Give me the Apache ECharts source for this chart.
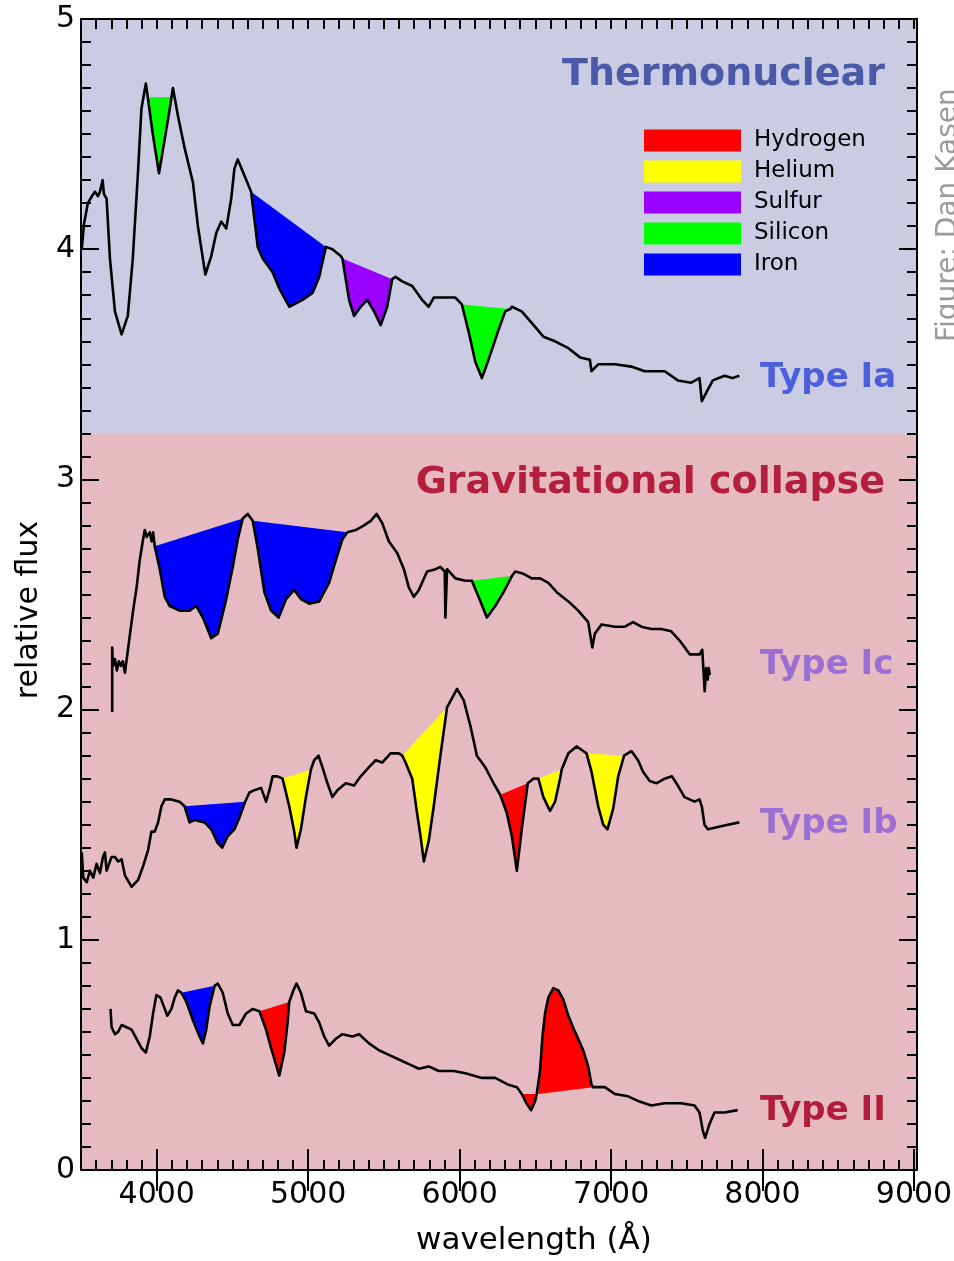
<!DOCTYPE html>
<html><head><meta charset="utf-8">
<script src="https://cdn.jsdelivr.net/npm/echarts@6/dist/echarts.min.js"></script>
<style>html,body{margin:0;padding:0;background:#fff}#c{width:954px;height:1261px}</style>
</head><body><div id="c"></div><script>
// ---------- data ----------
const ELEMENTS = ['Hydrogen', 'Helium', 'Sulfur', 'Silicon', 'Iron'];
const X_LABELS = [4000, 5000, 6000, 7000, 8000, 9000];
const Y_LABELS = [0, 1, 2, 3, 4, 5];
const BAND_SPLIT = 3.2;
const TYPE_NAMES = ['Type Ia', 'Type Ic', 'Type Ib', 'Type II'];

// [wavelength (Å), relative flux]
const typeIa = [[3505,4.00],[3520,4.11],[3545,4.20],[3572,4.23],[3592,4.25],[3612,4.23],[3625,4.25],[3643,4.30],[3651,4.24],[3669,4.22],[3691,3.96],[3724,3.73],[3768,3.63],[3809,3.71],[3842,3.96],[3875,4.32],[3899,4.61],[3928,4.72],[3941,4.66],[3974,4.50],[4015,4.33],[4053,4.48],[4086,4.61],[4107,4.70],[4140,4.58],[4184,4.44],[4239,4.29],[4272,4.10],[4321,3.89],[4360,3.97],[4393,4.07],[4426,4.12],[4459,4.09],[4492,4.22],[4513,4.35],[4535,4.39],[4579,4.32],[4623,4.25],[4667,4.01],[4700,3.96],[4765,3.90],[4809,3.83],[4875,3.75],[4963,3.78],[5029,3.81],[5073,3.88],[5117,4.01],[5160,4.00],[5215,3.97],[5226,3.96],[5270,3.78],[5303,3.71],[5347,3.75],[5390,3.78],[5435,3.73],[5479,3.67],[5522,3.75],[5555,3.87],[5577,3.88],[5621,3.86],[5687,3.84],[5752,3.78],[5796,3.75],[5829,3.79],[5895,3.79],[5972,3.79],[6015,3.76],[6060,3.64],[6104,3.51],[6147,3.44],[6191,3.52],[6257,3.65],[6301,3.73],[6334,3.74],[6345,3.75],[6410,3.73],[6476,3.68],[6553,3.62],[6630,3.60],[6718,3.57],[6795,3.53],[6860,3.52],[6871,3.47],[6915,3.50],[7025,3.50],[7134,3.49],[7222,3.47],[7354,3.47],[7441,3.43],[7529,3.42],[7584,3.44],[7599,3.34],[7639,3.39],[7672,3.43],[7749,3.45],[7800,3.44],[7847,3.45]];

const typeIc = [[3706,1.99],[3706,2.27],[3711,2.19],[3724,2.22],[3737,2.17],[3750,2.21],[3763,2.19],[3776,2.21],[3790,2.16],[3822,2.32],[3844,2.43],[3867,2.53],[3888,2.65],[3910,2.74],[3921,2.78],[3934,2.75],[3954,2.77],[3967,2.73],[3976,2.77],[3987,2.71],[4020,2.61],[4053,2.49],[4086,2.45],[4151,2.43],[4217,2.43],[4261,2.45],[4305,2.40],[4360,2.31],[4403,2.33],[4459,2.48],[4502,2.62],[4535,2.74],[4568,2.83],[4601,2.85],[4634,2.82],[4667,2.70],[4711,2.51],[4755,2.43],[4805,2.40],[4854,2.48],[4908,2.52],[4952,2.48],[5007,2.46],[5073,2.47],[5138,2.55],[5183,2.65],[5226,2.74],[5259,2.77],[5314,2.78],[5369,2.80],[5413,2.82],[5452,2.85],[5489,2.81],[5533,2.73],[5588,2.68],[5632,2.61],[5665,2.53],[5698,2.49],[5731,2.52],[5785,2.60],[5841,2.61],[5873,2.62],[5902,2.60],[5906,2.40],[5917,2.61],[5972,2.57],[6038,2.56],[6081,2.56],[6125,2.49],[6180,2.40],[6235,2.45],[6290,2.51],[6345,2.58],[6367,2.60],[6422,2.59],[6476,2.57],[6532,2.57],[6586,2.55],[6641,2.51],[6718,2.47],[6783,2.43],[6849,2.38],[6876,2.27],[6893,2.33],[6937,2.37],[7025,2.36],[7091,2.36],[7145,2.38],[7200,2.36],[7266,2.35],[7331,2.35],[7397,2.34],[7453,2.30],[7519,2.24],[7585,2.24],[7602,2.26],[7611,2.16],[7618,2.08],[7628,2.18],[7638,2.13],[7645,2.18],[7651,2.15]];

const typeIb = [[3505,1.38],[3515,1.27],[3538,1.25],[3559,1.30],[3581,1.27],[3603,1.33],[3625,1.29],[3645,1.36],[3658,1.38],[3669,1.30],[3702,1.36],[3724,1.36],[3745,1.34],[3768,1.35],[3790,1.28],[3834,1.23],[3877,1.26],[3910,1.32],[3943,1.39],[3965,1.47],[3987,1.47],[4009,1.51],[4031,1.58],[4053,1.61],[4097,1.61],[4151,1.60],[4184,1.58],[4217,1.51],[4250,1.52],[4316,1.51],[4360,1.48],[4403,1.42],[4432,1.40],[4469,1.45],[4513,1.48],[4546,1.53],[4584,1.60],[4612,1.64],[4645,1.65],[4689,1.66],[4722,1.60],[4744,1.65],[4765,1.71],[4798,1.71],[4831,1.70],[4875,1.58],[4908,1.47],[4923,1.40],[4952,1.48],[4985,1.62],[5018,1.74],[5040,1.78],[5068,1.80],[5094,1.75],[5127,1.68],[5160,1.62],[5193,1.65],[5248,1.68],[5303,1.67],[5347,1.71],[5402,1.75],[5446,1.78],[5489,1.77],[5544,1.81],[5599,1.81],[5621,1.80],[5643,1.77],[5687,1.70],[5719,1.55],[5742,1.45],[5764,1.34],[5796,1.43],[5829,1.58],[5873,1.80],[5917,2.01],[5983,2.09],[6027,2.04],[6071,1.93],[6114,1.80],[6169,1.75],[6224,1.68],[6268,1.63],[6312,1.55],[6345,1.45],[6378,1.30],[6410,1.48],[6450,1.68],[6487,1.70],[6520,1.70],[6553,1.62],[6597,1.56],[6630,1.60],[6663,1.70],[6674,1.74],[6718,1.81],[6772,1.84],[6816,1.82],[6838,1.81],[6871,1.73],[6915,1.58],[6948,1.50],[6976,1.48],[7014,1.57],[7047,1.71],[7086,1.80],[7134,1.82],[7178,1.78],[7211,1.73],[7255,1.69],[7299,1.68],[7354,1.70],[7402,1.71],[7441,1.67],[7485,1.62],[7551,1.60],[7584,1.61],[7599,1.58],[7617,1.50],[7639,1.48],[7705,1.49],[7771,1.50],[7847,1.51]];

const typeII = [[3695,0.70],[3702,0.62],[3724,0.59],[3745,0.60],[3768,0.63],[3801,0.62],[3834,0.61],[3867,0.57],[3899,0.53],[3928,0.51],[3954,0.58],[3976,0.68],[3998,0.76],[4024,0.75],[4053,0.70],[4070,0.67],[4097,0.70],[4119,0.75],[4140,0.78],[4163,0.77],[4196,0.73],[4239,0.65],[4283,0.58],[4305,0.55],[4327,0.61],[4349,0.71],[4382,0.80],[4403,0.81],[4436,0.77],[4469,0.68],[4502,0.63],[4546,0.63],[4590,0.68],[4634,0.70],[4678,0.69],[4722,0.61],[4755,0.53],[4809,0.41],[4842,0.51],[4864,0.64],[4875,0.73],[4902,0.78],[4923,0.81],[4952,0.77],[4985,0.69],[5040,0.68],[5073,0.64],[5106,0.58],[5138,0.54],[5183,0.57],[5226,0.59],[5292,0.58],[5336,0.59],[5402,0.55],[5467,0.52],[5533,0.50],[5599,0.48],[5665,0.46],[5731,0.44],[5796,0.45],[5862,0.43],[5961,0.43],[6038,0.42],[6147,0.40],[6235,0.40],[6323,0.37],[6378,0.36],[6410,0.33],[6441,0.29],[6472,0.26],[6499,0.30],[6509,0.33],[6520,0.33],[6531,0.43],[6547,0.58],[6564,0.68],[6586,0.75],[6619,0.79],[6652,0.78],[6685,0.74],[6718,0.67],[6762,0.60],[6816,0.52],[6849,0.45],[6871,0.37],[6882,0.36],[6959,0.36],[7025,0.33],[7112,0.32],[7178,0.30],[7266,0.28],[7354,0.29],[7463,0.29],[7551,0.28],[7584,0.25],[7606,0.17],[7621,0.14],[7650,0.20],[7683,0.25],[7749,0.25],[7836,0.26]];

const SPECTRA = [typeIa, typeIc, typeIb, typeII];

// shaded features: [spectrum index, start Å, end Å]
const hydrogenLines = [[2,6268,6450],[3,4678,4875],[3,6410,6509],[3,6520,6882]];
const heliumLines   = [[2,4831,5018],[2,5621,5917],[2,6520,6674],[2,6838,7086]];
const sulfurLines   = [[0,5226,5555]];
const siliconLines  = [[0,3941,4098],[0,6015,6334],[1,6081,6345]];
const ironLines     = [[0,4623,5117],[1,3987,4568],[1,4634,5259],[2,4184,4584],[3,4163,4382]];
const FEATURES = [hydrogenLines, heliumLines, sulfurLines, siliconLines, ironLines];

// ---------- styling ----------
const FONT = "'DejaVu Sans', Verdana, sans-serif";
const ELEMENT_COLORS = ['#ff0000', '#ffff00', '#9900ff', '#00ff00', '#0000ff'];
const LAVENDER = '#c9cce3';
const PINK = '#e5bac1';
const AXIS_LINE = {color: '#000', width: 2};
const X_MIN = 3500, X_MAX = 9020;

function interp(spec, x) {
  for (let i = 0; i < spec.length - 1; i++) {
    const a = spec[i], b = spec[i + 1];
    if (x >= a[0] && x <= b[0]) {
      if (b[0] === a[0]) return a[1];
      return a[1] + (b[1] - a[1]) * (x - a[0]) / (b[0] - a[0]);
    }
  }
  return spec[spec.length - 1][1];
}
function featurePoints(spec, a, b) {
  const pts = [[a, interp(spec, a)]];
  spec.forEach(p => { if (p[0] > a && p[0] < b) pts.push(p); });
  pts.push([b, interp(spec, b)]);
  return pts;
}

const chart = echarts.init(document.getElementById('c'), null, {renderer: 'canvas'});

const xBase = {type: 'value', min: X_MIN, max: X_MAX, z: 10, splitLine: {show: false}};
const yBase = {type: 'value', min: 0, max: 5, interval: 1, z: 10, splitLine: {show: false},
  axisLine: {show: true, onZero: false, lineStyle: AXIS_LINE},
  axisTick: {show: true, inside: true, length: 18, lineStyle: AXIS_LINE},
  minorTick: {show: true, splitNumber: 10, length: 10, lineStyle: AXIS_LINE}};

const series = [];
// background bands
series.push({
  type: 'custom', coordinateSystem: 'cartesian2d', silent: true, z: 1,
  data: [[X_MIN, BAND_SPLIT, X_MAX, 5, 0], [X_MIN, 0, X_MAX, BAND_SPLIT, 1]],
  encode: {x: [0, 2], y: [1, 3]},
  renderItem: function (params, api) {
    const p1 = api.coord([api.value(0), api.value(3)]);
    const p2 = api.coord([api.value(2), api.value(1)]);
    return {type: 'rect', shape: {x: p1[0], y: p1[1], width: p2[0] - p1[0], height: p2[1] - p1[1]},
      style: {fill: api.value(4) === 0 ? LAVENDER : PINK}};
  }
});
// element fills
ELEMENTS.forEach((name, k) => {
  series.push({
    type: 'custom', name: name, coordinateSystem: 'cartesian2d', silent: true, z: 3,
    itemStyle: {color: ELEMENT_COLORS[k]},
    data: FEATURES[k],
    encode: {x: [1, 2], y: 0},
    renderItem: function (params, api) {
      const spec = SPECTRA[api.value(0)];
      const pts = featurePoints(spec, api.value(1), api.value(2)).map(p => api.coord(p));
      return {type: 'polygon', shape: {points: pts}, style: {fill: ELEMENT_COLORS[k]}};
    }
  });
});
// spectra
SPECTRA.forEach((spec, i) => {
  series.push({type: 'line', name: TYPE_NAMES[i], data: spec, symbol: 'none', silent: true, z: 4,
    lineStyle: {color: '#000', width: 2.6, join: 'round'}});
});

const option = {
  animation: false,
  backgroundColor: '#fff',
  grid: {left: 81, right: 37, top: 19, bottom: 91, show: false, outerBoundsMode: 'none', containLabel: false},
  legend: {
    data: ELEMENTS, orient: 'vertical', left: 644, top: 129, padding: 0,
    itemWidth: 97, itemHeight: 22, itemGap: 8, icon: 'rect', selectedMode: false,
    textStyle: {fontFamily: FONT, fontSize: 23, lineHeight: 22, color: '#000', padding: [0, 0, 0, 8]}
  },
  xAxis: [
    Object.assign({}, xBase, {position: 'bottom', interval: 100,
      axisLine: {show: true, onZero: false, lineStyle: AXIS_LINE},
      axisTick: {show: true, inside: true, length: 10, lineStyle: AXIS_LINE},
      axisLabel: {show: true, margin: 10, color: '#000', fontFamily: FONT, fontSize: 30,
        formatter: v => X_LABELS.indexOf(Math.round(v)) >= 0 ? String(Math.round(v)) : ''}}),
    Object.assign({}, xBase, {position: 'bottom', interval: 500,
      axisLine: {show: false},
      axisTick: {show: true, inside: true, length: 21, customValues: X_LABELS, lineStyle: AXIS_LINE},
      axisLabel: {show: false}}),
    Object.assign({}, xBase, {position: 'top', interval: 100,
      axisLine: {show: true, onZero: false, lineStyle: AXIS_LINE},
      axisTick: {show: true, inside: true, length: 10, lineStyle: AXIS_LINE},
      axisLabel: {show: false}}),
    Object.assign({}, xBase, {position: 'top', interval: 500,
      axisLine: {show: false},
      axisTick: {show: true, inside: true, length: 21, customValues: X_LABELS, lineStyle: AXIS_LINE},
      axisLabel: {show: false}})
  ],
  yAxis: [
    Object.assign({}, yBase, {position: 'left',
      axisLabel: {show: true, margin: 6, color: '#000', fontFamily: FONT, fontSize: 30,
        formatter: v => Y_LABELS.indexOf(v) >= 0 ? String(v) : ''}}),
    Object.assign({}, yBase, {position: 'right', axisLabel: {show: false}})
  ],
  graphic: [
    {type: 'text', x: 534, y: 1241, z: 20, style: {text: 'wavelength (Å)', fill: '#000',
      font: '31px ' + FONT, align: 'center', verticalAlign: 'middle'}},
    {type: 'text', x: 29, y: 610, rotation: Math.PI / 2, z: 20, style: {text: 'relative flux', fill: '#000',
      font: '30px ' + FONT, align: 'center', verticalAlign: 'middle'}},
    {type: 'text', x: 885, y: 75, z: 20, style: {text: 'Thermonuclear', fill: '#4a59a8',
      font: 'bold 38px ' + FONT, align: 'right', verticalAlign: 'middle'}},
    {type: 'text', x: 885, y: 483, z: 20, style: {text: 'Gravitational collapse', fill: '#b31f3d',
      font: 'bold 38px ' + FONT, align: 'right', verticalAlign: 'middle'}},
    {type: 'text', x: 760, y: 378, z: 20, style: {text: TYPE_NAMES[0], fill: '#4b5fdc',
      font: 'bold 34px ' + FONT, align: 'left', verticalAlign: 'middle'}},
    {type: 'text', x: 760, y: 665, z: 20, style: {text: TYPE_NAMES[1], fill: '#9b6ed3',
      font: 'bold 34px ' + FONT, align: 'left', verticalAlign: 'middle'}},
    {type: 'text', x: 760, y: 824, z: 20, style: {text: TYPE_NAMES[2], fill: '#9b6ed3',
      font: 'bold 34px ' + FONT, align: 'left', verticalAlign: 'middle'}},
    {type: 'text', x: 760, y: 1111, z: 20, style: {text: TYPE_NAMES[3], fill: '#b01c3a',
      font: 'bold 34px ' + FONT, align: 'left', verticalAlign: 'middle'}},
    {type: 'text', x: 949, y: 342, rotation: Math.PI / 2, z: 20, style: {text: 'Figure: Dan Kasen',
      fill: '#9a9a9a', font: '28px ' + FONT, align: 'left', verticalAlign: 'middle'}}
  ],
  series: series
};
chart.setOption(option);
</script></body></html>
